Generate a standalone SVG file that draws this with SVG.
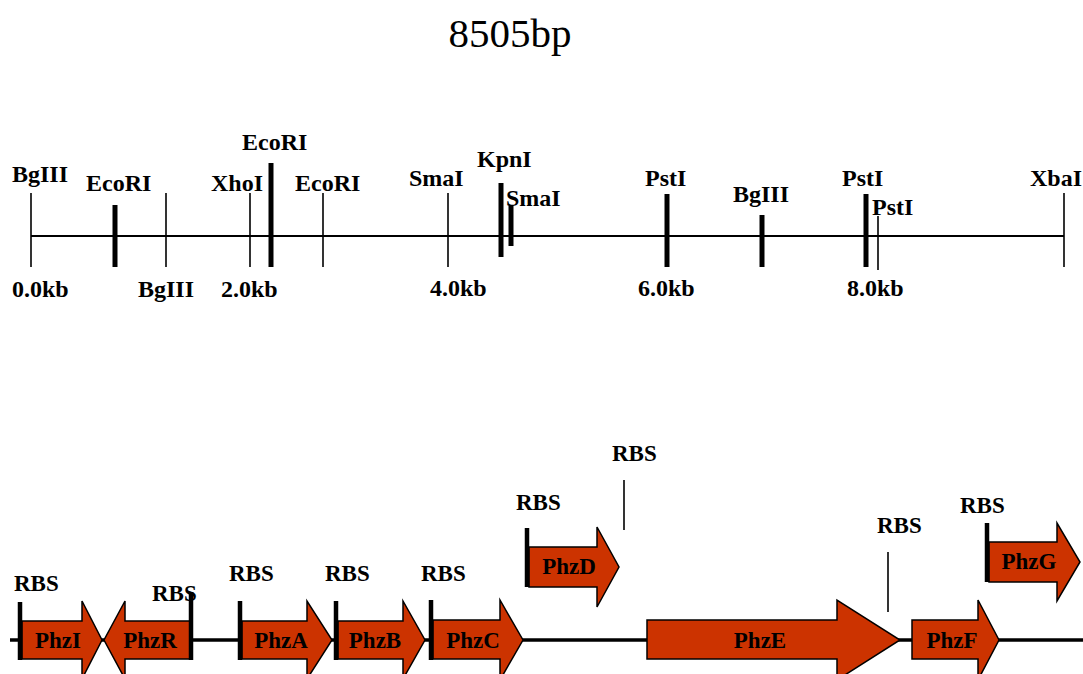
<svg xmlns="http://www.w3.org/2000/svg" width="1083" height="674" viewBox="0 0 1083 674">
<style>
text{font-family:"Liberation Serif","Times New Roman",serif;font-weight:bold;fill:#000}
.lbl{font-size:24px}
.rbs{font-size:23px}
.gl{font-size:23px;text-anchor:middle}
.title{font-size:41px;font-weight:normal;text-anchor:middle}
.thin{stroke:#000;stroke-width:1.6}
.thick{stroke:#000;stroke-width:5}
.axis{stroke:#000;stroke-width:2}
.gene{fill:#cc3300;stroke:#000;stroke-width:1.5;stroke-linejoin:miter}
.bar{stroke:#000;stroke-width:4.5}
.dna{stroke:#000;stroke-width:3.5}
</style>
<rect width="1083" height="674" fill="#fff"/>
<text id="title" class="title" x="510" y="47">8505bp</text>

<g id="connectors">
<line class="axis" x1="31" y1="236" x2="1064" y2="236"/>
<line class="dna" x1="10" y1="640" x2="1083" y2="640"/>
<line class="thin" x1="624" y1="480" x2="624" y2="530"/>
<line class="thin" x1="888" y1="552" x2="888" y2="612"/>
</g>

<g id="sites">
<g id="s-bglii-0"><line class="thin" x1="31" y1="193" x2="31" y2="267"/><text class="lbl" x="12" y="182">BgIII</text></g>
<g id="s-ecori-1"><line class="thick" x1="115" y1="205" x2="115" y2="267"/><text class="lbl" x="86" y="191">EcoRI</text></g>
<g id="s-bglii-2"><line class="thin" x1="166" y1="193" x2="166" y2="267"/><text class="lbl" x="138" y="297">BgIII</text></g>
<g id="s-xhoi"><line class="thin" x1="250" y1="193" x2="250" y2="267"/><text class="lbl" x="211" y="191">XhoI</text></g>
<g id="s-ecori-2"><line class="thick" x1="271" y1="163" x2="271" y2="267"/><text class="lbl" x="242" y="150">EcoRI</text></g>
<g id="s-ecori-3"><line class="thin" x1="323" y1="193" x2="323" y2="267"/><text class="lbl" x="295" y="191">EcoRI</text></g>
<g id="s-smai-1"><line class="thin" x1="448" y1="193" x2="448" y2="267"/><text class="lbl" x="409" y="186">SmaI</text></g>
<g id="s-kpni"><line class="thick" x1="501" y1="183" x2="501" y2="257"/><text class="lbl" x="477" y="167">KpnI</text></g>
<g id="s-smai-2"><line class="thick" x1="511" y1="205" x2="511" y2="246"/><text class="lbl" x="506" y="206">SmaI</text></g>
<g id="s-psti-1"><line class="thick" x1="667" y1="194" x2="667" y2="267"/><text class="lbl" x="645" y="186">PstI</text></g>
<g id="s-bglii-3"><line class="thick" x1="762" y1="215" x2="762" y2="267"/><text class="lbl" x="733" y="202">BgIII</text></g>
<g id="s-psti-2"><line class="thick" x1="866" y1="194" x2="866" y2="267"/><text class="lbl" x="842" y="186">PstI</text></g>
<g id="s-psti-3"><line class="thin" x1="878" y1="216" x2="878" y2="270"/><text class="lbl" x="872" y="215">PstI</text></g>
<g id="s-xbai"><line class="thin" x1="1064" y1="193" x2="1064" y2="267"/><text class="lbl" x="1030" y="186">XbaI</text></g>
<g id="scale">
<text class="lbl" x="12" y="297">0.0kb</text>
<text class="lbl" x="221" y="297">2.0kb</text>
<text class="lbl" x="430" y="296">4.0kb</text>
<text class="lbl" x="638" y="296">6.0kb</text>
<text class="lbl" x="847" y="296">8.0kb</text>
</g>
</g>

<g id="PhzI">
<polygon class="gene" points="22,621 82,621 82,601 102,640 82,679 82,659 22,659"/>
<line class="bar" x1="20" y1="602" x2="20" y2="660"/>
<text class="gl" x="58" y="648">PhzI</text>
<text class="rbs" x="14" y="591">RBS</text>
</g>
<g id="PhzR">
<polygon class="gene" points="190,621 125,621 125,601 104,640 125,679 125,659 190,659"/>
<line class="bar" x1="191" y1="592" x2="191" y2="660"/>
<text class="gl" x="150" y="648">PhzR</text>
<text class="rbs" x="152" y="601">RBS</text>
</g>
<g id="PhzA">
<polygon class="gene" points="242,621 307,621 307,601 332,640 307,679 307,659 242,659"/>
<line class="bar" x1="240" y1="601" x2="240" y2="660"/>
<text class="gl" x="281" y="648">PhzA</text>
<text class="rbs" x="229" y="581">RBS</text>
</g>
<g id="PhzB">
<polygon class="gene" points="338,621 403,621 403,601 425,640 403,679 403,659 338,659"/>
<line class="bar" x1="336" y1="601" x2="336" y2="660"/>
<text class="gl" x="375" y="648">PhzB</text>
<text class="rbs" x="325" y="581">RBS</text>
</g>
<g id="PhzC">
<polygon class="gene" points="433,620 500,620 500,600 523,640 500,680 500,659 433,659"/>
<line class="bar" x1="431" y1="600" x2="431" y2="660"/>
<text class="gl" x="473" y="648">PhzC</text>
<text class="rbs" x="421" y="581">RBS</text>
</g>
<g id="PhzD">
<polygon class="gene" points="529,547 597,547 597,527 619,567 597,607 597,587 529,587"/>
<line class="bar" x1="527" y1="528" x2="527" y2="587"/>
<text class="gl" x="569" y="574">PhzD</text>
<text class="rbs" x="516" y="510">RBS</text>
</g>
<g id="RBS-E">
<text class="rbs" x="612" y="461">RBS</text>
</g>
<g id="PhzE">
<polygon class="gene" points="647,620 837,620 837,600 900,640 837,680 837,659 647,659"/>
<text class="gl" x="760" y="648">PhzE</text>
</g>
<g id="RBS-F">
<text class="rbs" x="877" y="533">RBS</text>
</g>
<g id="PhzF">
<polygon class="gene" points="912,620 978,620 978,600 999,640 978,680 978,659 912,659"/>
<text class="gl" x="952" y="648">PhzF</text>
</g>
<g id="PhzG">
<polygon class="gene" points="989,542 1057,542 1057,523 1080,562 1057,601 1057,582 989,582"/>
<line class="bar" x1="987" y1="523" x2="987" y2="582"/>
<text class="gl" x="1029" y="569">PhzG</text>
<text class="rbs" x="960" y="513">RBS</text>
</g>
</svg>
